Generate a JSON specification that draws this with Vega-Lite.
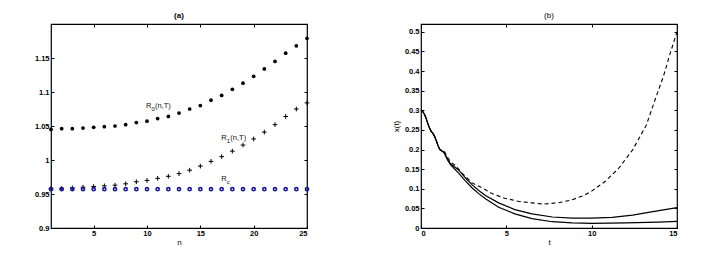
{
  "$schema": "https://vega.github.io/schema/vega-lite/v6.json",
  "padding": {"left": 33, "top": 10, "right": 5, "bottom": 5},
  "background": "#ffffff",
  "config": {
    "font": "Liberation Sans",
    "view": {"stroke": "#000000", "strokeWidth": 1.2},
    "axis": {
      "grid": false,
      "domain": false,
      "tickColor": "#000000",
      "tickSize": -3,
      "labelFont": "Liberation Sans",
      "labelFontSize": 7.5,
      "labelFontWeight": "bold",
      "labelColor": "#000000",
      "labelPadding": 5,
      "titleFont": "Liberation Sans",
      "titleFontSize": 8,
      "titleFontWeight": "normal",
      "titleColor": "#000000"
    },
    "axisBottom": {"labelPadding": 4, "titlePadding": 2},
    "title": {"font": "Liberation Sans", "fontSize": 8, "fontWeight": "bold", "color": "#000000", "offset": 4}
  },
  "datasets": {
    "ptsA": [
      {"n": 1, "series": "R0", "value": 1.045}, {"n": 2, "series": "R0", "value": 1.046}, {"n": 3, "series": "R0", "value": 1.046},
      {"n": 4, "series": "R0", "value": 1.047}, {"n": 5, "series": "R0", "value": 1.048}, {"n": 6, "series": "R0", "value": 1.049},
      {"n": 7, "series": "R0", "value": 1.05}, {"n": 8, "series": "R0", "value": 1.052}, {"n": 9, "series": "R0", "value": 1.055},
      {"n": 10, "series": "R0", "value": 1.057}, {"n": 11, "series": "R0", "value": 1.061}, {"n": 12, "series": "R0", "value": 1.064},
      {"n": 13, "series": "R0", "value": 1.069}, {"n": 14, "series": "R0", "value": 1.075}, {"n": 15, "series": "R0", "value": 1.08},
      {"n": 16, "series": "R0", "value": 1.088}, {"n": 17, "series": "R0", "value": 1.095}, {"n": 18, "series": "R0", "value": 1.104},
      {"n": 19, "series": "R0", "value": 1.113}, {"n": 20, "series": "R0", "value": 1.123}, {"n": 21, "series": "R0", "value": 1.134},
      {"n": 22, "series": "R0", "value": 1.145}, {"n": 23, "series": "R0", "value": 1.157}, {"n": 24, "series": "R0", "value": 1.168},
      {"n": 25, "series": "R0", "value": 1.179},
      {"n": 1, "series": "R1", "value": 0.958}, {"n": 2, "series": "R1", "value": 0.958}, {"n": 3, "series": "R1", "value": 0.959},
      {"n": 4, "series": "R1", "value": 0.96}, {"n": 5, "series": "R1", "value": 0.961}, {"n": 6, "series": "R1", "value": 0.962},
      {"n": 7, "series": "R1", "value": 0.963}, {"n": 8, "series": "R1", "value": 0.965}, {"n": 9, "series": "R1", "value": 0.968},
      {"n": 10, "series": "R1", "value": 0.97}, {"n": 11, "series": "R1", "value": 0.973}, {"n": 12, "series": "R1", "value": 0.976},
      {"n": 13, "series": "R1", "value": 0.98}, {"n": 14, "series": "R1", "value": 0.985}, {"n": 15, "series": "R1", "value": 0.991},
      {"n": 16, "series": "R1", "value": 0.998}, {"n": 17, "series": "R1", "value": 1.005}, {"n": 18, "series": "R1", "value": 1.013},
      {"n": 19, "series": "R1", "value": 1.022}, {"n": 20, "series": "R1", "value": 1.031}, {"n": 21, "series": "R1", "value": 1.041},
      {"n": 22, "series": "R1", "value": 1.052}, {"n": 23, "series": "R1", "value": 1.064}, {"n": 24, "series": "R1", "value": 1.075},
      {"n": 25, "series": "R1", "value": 1.084},
      {"n": 1, "series": "Rc", "value": 0.957}, {"n": 2, "series": "Rc", "value": 0.957}, {"n": 3, "series": "Rc", "value": 0.957},
      {"n": 4, "series": "Rc", "value": 0.957}, {"n": 5, "series": "Rc", "value": 0.957}, {"n": 6, "series": "Rc", "value": 0.957},
      {"n": 7, "series": "Rc", "value": 0.957}, {"n": 8, "series": "Rc", "value": 0.957}, {"n": 9, "series": "Rc", "value": 0.957},
      {"n": 10, "series": "Rc", "value": 0.957}, {"n": 11, "series": "Rc", "value": 0.957}, {"n": 12, "series": "Rc", "value": 0.957},
      {"n": 13, "series": "Rc", "value": 0.957}, {"n": 14, "series": "Rc", "value": 0.957}, {"n": 15, "series": "Rc", "value": 0.957},
      {"n": 16, "series": "Rc", "value": 0.957}, {"n": 17, "series": "Rc", "value": 0.957}, {"n": 18, "series": "Rc", "value": 0.957},
      {"n": 19, "series": "Rc", "value": 0.957}, {"n": 20, "series": "Rc", "value": 0.957}, {"n": 21, "series": "Rc", "value": 0.957},
      {"n": 22, "series": "Rc", "value": 0.957}, {"n": 23, "series": "Rc", "value": 0.957}, {"n": 24, "series": "Rc", "value": 0.957},
      {"n": 25, "series": "Rc", "value": 0.957}
    ],
    "lblA": [
      {"n": 9.9, "value": 1.08, "main": "R", "sub": "0", "rest": "(n,T)"},
      {"n": 16.97, "value": 1.032, "main": "R", "sub": "1", "rest": "(n,T)"},
      {"n": 16.97, "value": 0.972, "main": "R", "sub": "c", "rest": ""}
    ],
    "ptsB": [
      {"t": 0, "series": "upper", "value": 0.302}, {"t": 0.1, "series": "upper", "value": 0.297}, {"t": 0.2, "series": "upper", "value": 0.29},
      {"t": 0.3, "series": "upper", "value": 0.28}, {"t": 0.4, "series": "upper", "value": 0.266}, {"t": 0.5, "series": "upper", "value": 0.255},
      {"t": 0.6, "series": "upper", "value": 0.246}, {"t": 0.7, "series": "upper", "value": 0.241}, {"t": 0.8, "series": "upper", "value": 0.233},
      {"t": 0.9, "series": "upper", "value": 0.222}, {"t": 1.0, "series": "upper", "value": 0.21}, {"t": 1.1, "series": "upper", "value": 0.2},
      {"t": 1.2, "series": "upper", "value": 0.197}, {"t": 1.3, "series": "upper", "value": 0.195}, {"t": 1.4, "series": "upper", "value": 0.19},
      {"t": 1.5, "series": "upper", "value": 0.18}, {"t": 1.6, "series": "upper", "value": 0.172}, {"t": 1.75, "series": "upper", "value": 0.163},
      {"t": 2.2, "series": "upper", "value": 0.148}, {"t": 2.6, "series": "upper", "value": 0.128}, {"t": 3.0, "series": "upper", "value": 0.11},
      {"t": 3.4, "series": "upper", "value": 0.095}, {"t": 3.8, "series": "upper", "value": 0.082}, {"t": 4.55, "series": "upper", "value": 0.064},
      {"t": 5.5, "series": "upper", "value": 0.047}, {"t": 6.5, "series": "upper", "value": 0.036}, {"t": 7.7, "series": "upper", "value": 0.028},
      {"t": 8.85, "series": "upper", "value": 0.025}, {"t": 10.0, "series": "upper", "value": 0.025}, {"t": 11.2, "series": "upper", "value": 0.027},
      {"t": 12.4, "series": "upper", "value": 0.033}, {"t": 13.5, "series": "upper", "value": 0.041}, {"t": 15.0, "series": "upper", "value": 0.052},
      {"t": 0, "series": "lower", "value": 0.302}, {"t": 0.1, "series": "lower", "value": 0.297}, {"t": 0.2, "series": "lower", "value": 0.29},
      {"t": 0.3, "series": "lower", "value": 0.28}, {"t": 0.4, "series": "lower", "value": 0.266}, {"t": 0.5, "series": "lower", "value": 0.255},
      {"t": 0.6, "series": "lower", "value": 0.246}, {"t": 0.7, "series": "lower", "value": 0.241}, {"t": 0.8, "series": "lower", "value": 0.233},
      {"t": 0.9, "series": "lower", "value": 0.222}, {"t": 1.0, "series": "lower", "value": 0.21}, {"t": 1.1, "series": "lower", "value": 0.2},
      {"t": 1.2, "series": "lower", "value": 0.197}, {"t": 1.3, "series": "lower", "value": 0.194}, {"t": 1.4, "series": "lower", "value": 0.188},
      {"t": 1.5, "series": "lower", "value": 0.178}, {"t": 1.6, "series": "lower", "value": 0.17}, {"t": 1.75, "series": "lower", "value": 0.16},
      {"t": 2.2, "series": "lower", "value": 0.14}, {"t": 2.6, "series": "lower", "value": 0.12}, {"t": 3.0, "series": "lower", "value": 0.102},
      {"t": 3.4, "series": "lower", "value": 0.087}, {"t": 3.8, "series": "lower", "value": 0.074}, {"t": 4.55, "series": "lower", "value": 0.053},
      {"t": 5.5, "series": "lower", "value": 0.036}, {"t": 6.5, "series": "lower", "value": 0.024}, {"t": 7.7, "series": "lower", "value": 0.016},
      {"t": 8.85, "series": "lower", "value": 0.013}, {"t": 10.0, "series": "lower", "value": 0.012}, {"t": 12.0, "series": "lower", "value": 0.013},
      {"t": 13.9, "series": "lower", "value": 0.015}, {"t": 15.0, "series": "lower", "value": 0.017},
      {"t": 0, "series": "dashed", "value": 0.302}, {"t": 0.1, "series": "dashed", "value": 0.297}, {"t": 0.2, "series": "dashed", "value": 0.29},
      {"t": 0.3, "series": "dashed", "value": 0.28}, {"t": 0.4, "series": "dashed", "value": 0.266}, {"t": 0.5, "series": "dashed", "value": 0.255},
      {"t": 0.6, "series": "dashed", "value": 0.246}, {"t": 0.7, "series": "dashed", "value": 0.241}, {"t": 0.8, "series": "dashed", "value": 0.233},
      {"t": 0.9, "series": "dashed", "value": 0.222}, {"t": 1.0, "series": "dashed", "value": 0.21}, {"t": 1.1, "series": "dashed", "value": 0.201},
      {"t": 1.2, "series": "dashed", "value": 0.199}, {"t": 1.3, "series": "dashed", "value": 0.197}, {"t": 1.4, "series": "dashed", "value": 0.193},
      {"t": 1.5, "series": "dashed", "value": 0.184}, {"t": 1.6, "series": "dashed", "value": 0.177}, {"t": 1.75, "series": "dashed", "value": 0.168},
      {"t": 2.0, "series": "dashed", "value": 0.16}, {"t": 2.4, "series": "dashed", "value": 0.14}, {"t": 3.0, "series": "dashed", "value": 0.115},
      {"t": 3.6, "series": "dashed", "value": 0.102}, {"t": 4.2, "series": "dashed", "value": 0.087}, {"t": 4.9, "series": "dashed", "value": 0.076},
      {"t": 5.7, "series": "dashed", "value": 0.068}, {"t": 6.5, "series": "dashed", "value": 0.064}, {"t": 7.2, "series": "dashed", "value": 0.061},
      {"t": 8.0, "series": "dashed", "value": 0.064}, {"t": 8.8, "series": "dashed", "value": 0.071}, {"t": 9.6, "series": "dashed", "value": 0.084},
      {"t": 10.0, "series": "dashed", "value": 0.094}, {"t": 10.8, "series": "dashed", "value": 0.119}, {"t": 11.6, "series": "dashed", "value": 0.153},
      {"t": 12.4, "series": "dashed", "value": 0.199}, {"t": 13.2, "series": "dashed", "value": 0.262}, {"t": 13.7, "series": "dashed", "value": 0.325},
      {"t": 14.2, "series": "dashed", "value": 0.386}, {"t": 14.6, "series": "dashed", "value": 0.445}, {"t": 15.0, "series": "dashed", "value": 0.5}
    ]
  },
  "hconcat": [
    {
      "width": 256,
      "height": 204,
      "title": {"text": "(a)"},
      "resolve": {"axis": {"x": "independent", "y": "independent"}},
      "layer": [
        {
          "data": {"name": "ptsA"},
          "transform": [{"filter": "datum.series === 'R1'"}],
          "mark": {"type": "point", "shape": "M-1,0H1M0,-1V1", "filled": false, "stroke": "#000000", "strokeWidth": 1, "size": 22, "opacity": 1},
          "encoding": {
            "x": {"field": "n", "type": "quantitative", "scale": {"domain": [1, 25], "nice": false},
                  "axis": {"orient": "bottom", "values": [5, 10, 15, 20, 25], "title": "n"}},
            "y": {"field": "value", "type": "quantitative", "scale": {"domain": [0.9, 1.2], "nice": false, "zero": false},
                  "axis": {"orient": "left", "values": [0.9, 0.95, 1, 1.05, 1.1, 1.15], "format": ".2~f", "title": null}}
          }
        },
        {
          "data": {"name": "ptsA"},
          "transform": [{"filter": "datum.series === 'Rc'"}],
          "mark": {"type": "point", "shape": "circle", "filled": false, "stroke": "#1a1aa0", "strokeWidth": 1.6, "size": 10, "opacity": 1},
          "encoding": {
            "x": {"field": "n", "type": "quantitative", "scale": {"domain": [1, 25], "nice": false},
                  "axis": {"orient": "top", "values": [5, 10, 15, 20, 25], "labels": false, "title": null}},
            "y": {"field": "value", "type": "quantitative", "scale": {"domain": [0.9, 1.2], "nice": false, "zero": false},
                  "axis": {"orient": "right", "values": [0.9, 0.95, 1, 1.05, 1.1, 1.15], "labels": false, "title": null}}
          }
        },
        {
          "data": {"name": "ptsA"},
          "transform": [{"filter": "datum.series === 'R0'"}],
          "mark": {"type": "point", "shape": "circle", "filled": true, "color": "#000000", "size": 14, "opacity": 1},
          "encoding": {
            "x": {"field": "n", "type": "quantitative", "axis": null},
            "y": {"field": "value", "type": "quantitative", "axis": null}
          }
        },
        {
          "data": {"name": "lblA"},
          "mark": {"type": "text", "align": "left", "baseline": "middle", "fontSize": 7.5, "color": "#111111"},
          "encoding": {
            "x": {"field": "n", "type": "quantitative", "axis": null},
            "y": {"field": "value", "type": "quantitative", "axis": null},
            "text": {"field": "main"}
          }
        },
        {
          "data": {"name": "lblA"},
          "mark": {"type": "text", "align": "left", "baseline": "middle", "fontSize": 6, "dx": 5.5, "dy": 3, "color": "#111111"},
          "encoding": {
            "x": {"field": "n", "type": "quantitative", "axis": null},
            "y": {"field": "value", "type": "quantitative", "axis": null},
            "text": {"field": "sub"}
          }
        },
        {
          "data": {"name": "lblA"},
          "mark": {"type": "text", "align": "left", "baseline": "middle", "fontSize": 7.5, "dx": 9, "color": "#111111"},
          "encoding": {
            "x": {"field": "n", "type": "quantitative", "axis": null},
            "y": {"field": "value", "type": "quantitative", "axis": null},
            "text": {"field": "rest"}
          }
        }
      ]
    },
    {
      "width": 256,
      "height": 204,
      "title": {"text": "(b)", "fontWeight": "normal"},
      "resolve": {"axis": {"x": "independent", "y": "independent"}},
      "layer": [
        {
          "data": {"name": "ptsB"},
          "transform": [{"filter": "datum.series !== 'dashed'"}],
          "mark": {"type": "line", "color": "#000000", "strokeWidth": 1.2},
          "encoding": {
            "x": {"field": "t", "type": "quantitative", "scale": {"domain": [0, 15], "nice": false},
                  "axis": {"orient": "bottom", "values": [0, 5, 10, 15], "title": "t"}},
            "y": {"field": "value", "type": "quantitative", "scale": {"domain": [0, 0.52], "nice": false},
                  "axis": {"orient": "left", "values": [0, 0.05, 0.1, 0.15, 0.2, 0.25, 0.3, 0.35, 0.4, 0.45, 0.5], "format": ".2~f", "title": "x(t)", "titlePadding": 4}},
            "detail": {"field": "series", "type": "nominal"}
          }
        },
        {
          "data": {"name": "ptsB"},
          "transform": [{"filter": "datum.series === 'dashed'"}],
          "mark": {"type": "line", "color": "#000000", "strokeWidth": 1.1, "strokeDash": [4, 3]},
          "encoding": {
            "x": {"field": "t", "type": "quantitative", "scale": {"domain": [0, 15], "nice": false},
                  "axis": {"orient": "top", "values": [0, 5, 10, 15], "labels": false, "title": null}},
            "y": {"field": "value", "type": "quantitative", "scale": {"domain": [0, 0.52], "nice": false},
                  "axis": {"orient": "right", "values": [0, 0.05, 0.1, 0.15, 0.2, 0.25, 0.3, 0.35, 0.4, 0.45, 0.5], "labels": false, "title": null}}
          }
        }
      ]
    }
  ],
  "spacing": 114,
  "bounds": "flush"
}
